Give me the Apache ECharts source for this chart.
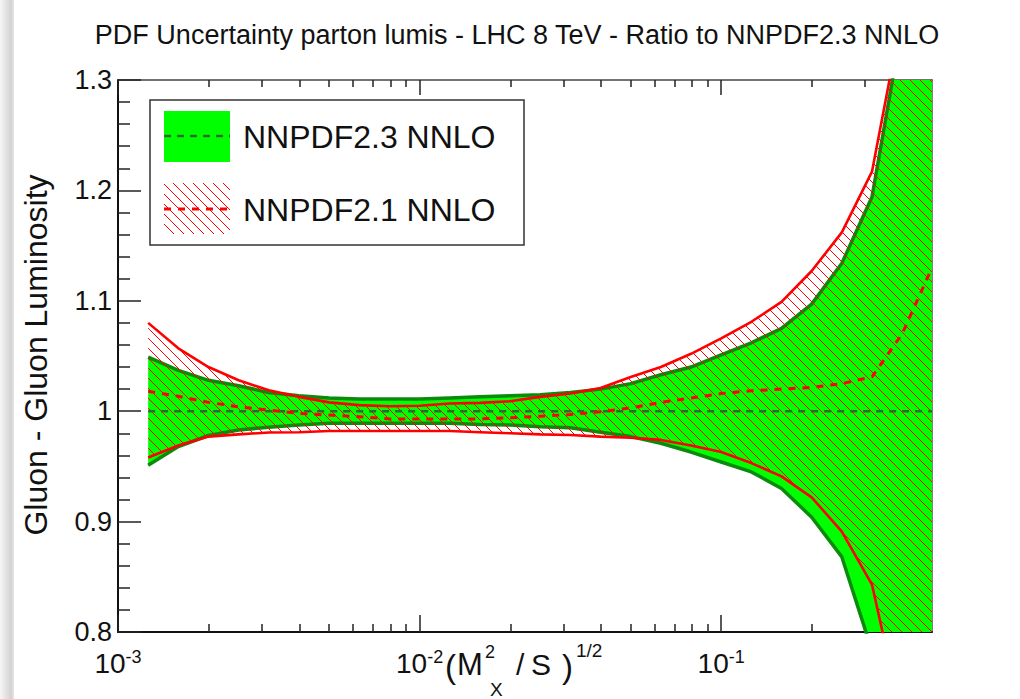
<!DOCTYPE html>
<html><head><meta charset="utf-8">
<script src="https://cdn.jsdelivr.net/npm/echarts@6/dist/echarts.min.js"></script>
<style>html,body{margin:0;padding:0;background:#fff}#c{width:1020px;height:699px}</style>
</head><body><div id="c"></div>
<script>
// ---- data (x = (M_X^2/S)^{1/2}) ----
const xVals = [0.001259, 0.001585, 0.001995, 0.002512, 0.003162, 0.003981, 0.005012, 0.006310, 0.007943,
  0.01, 0.01259, 0.01585, 0.01995, 0.02512, 0.03162, 0.03981, 0.05012, 0.06310, 0.07943,
  0.1, 0.1259, 0.1585, 0.1995, 0.2512, 0.3162, 0.3981, 0.5];
// NNPDF2.3 NNLO band (ratio to itself)
const g23Up = [1.049, 1.037, 1.028, 1.023, 1.017, 1.014, 1.012, 1.011, 1.011,
  1.011, 1.012, 1.013, 1.014, 1.015, 1.017, 1.020, 1.025, 1.033, 1.040,
  1.051, 1.062, 1.075, 1.097, 1.134, 1.194, 1.35, 1.5];
const g23Lo = [0.951, 0.968, 0.978, 0.983, 0.9855, 0.9875, 0.989, 0.989, 0.989,
  0.989, 0.989, 0.988, 0.9875, 0.986, 0.985, 0.981, 0.977, 0.971, 0.963,
  0.954, 0.945, 0.930, 0.904, 0.868, 0.783, 0.62, 0.45];
const g23Ct = [1, 1, 1, 1, 1, 1, 1, 1, 1, 1, 1, 1, 1, 1, 1, 1, 1, 1, 1, 1, 1, 1, 1, 1, 1, 1, 1];
// NNPDF2.1 NNLO band
const r21Up = [1.080, 1.057, 1.040, 1.028, 1.019, 1.013, 1.008, 1.0055, 1.0045,
  1.005, 1.007, 1.0075, 1.009, 1.013, 1.016, 1.021, 1.031, 1.040, 1.052,
  1.066, 1.081, 1.099, 1.127, 1.162, 1.217, 1.36, 1.55];
const r21Lo = [0.958, 0.969, 0.977, 0.979, 0.9807, 0.981, 0.982, 0.982, 0.982,
  0.982, 0.982, 0.981, 0.980, 0.979, 0.9785, 0.977, 0.976, 0.974, 0.969,
  0.963, 0.953, 0.941, 0.922, 0.891, 0.843, 0.72, 0.55];
const r21Ct = [1.018, 1.0135, 1.008, 1.004, 1.001, 0.998, 0.9965, 0.995, 0.993,
  0.993, 0.993, 0.993, 0.994, 0.9955, 0.997, 0.9995, 1.003, 1.008, 1.012,
  1.016, 1.0185, 1.020, 1.0215, 1.025, 1.031, 1.070, 1.130];

const xMajorTicks = [0.001, 0.01, 0.1];
const xMajorExp = ['-3', '-2', '-1'];
const xMinorTicks = [0.002, 0.003, 0.004, 0.005, 0.006, 0.007, 0.008, 0.009,
  0.02, 0.03, 0.04, 0.05, 0.06, 0.07, 0.08, 0.09, 0.2, 0.3, 0.4];
const yTicks = [0.8, 0.9, 1.0, 1.1, 1.2, 1.3];
const yTickLabels = ['0.8', '0.9', '1', '1.1', '1.2', '1.3'];
const seriesNames = ['NNPDF2.3 NNLO', 'NNPDF2.1 NNLO'];
const titleText = 'PDF Uncertainty parton lumis - LHC 8 TeV - Ratio to NNPDF2.3 NNLO';
const yName = 'Gluon - Gluon Luminosity';

// ---- styles ----
const FONT = '"Liberation Sans", Arial, Helvetica, sans-serif';
const LIME = '#00ff00', DKGREEN = '#0b8a0b', GDASH = '#2f6b2f', RED = '#ff0000';
function hatchCanvas() {
  const c = document.createElement('canvas'); c.width = 10; c.height = 10;
  const g = c.getContext('2d'); g.strokeStyle = RED; g.lineWidth = 1;
  for (const d of [-10, 0, 10]) { g.beginPath(); g.moveTo(d - 1, -1); g.lineTo(d + 11, 11); g.stroke(); }
  return c;
}
const hatch = { image: hatchCanvas(), repeat: 'repeat', imageWidth: 10, imageHeight: 10 };

const pair = ys => xVals.map((x, i) => [x, ys[i]]);
const lineS = (data, color, width, type, z) => ({
  type: 'line', data, symbol: 'none', silent: true, z,
  lineStyle: { color, width, type: type || 'solid' }
});
// band between upper and lower curves, drawn as one polygon through the axes' scales
const bandS = (name, up, lo, fill, z) => ({
  type: 'custom', name, z, silent: true,
  data: xVals.map((x, i) => [x, up[i], lo[i]]),
  encode: { x: 0, y: [1, 2] },
  renderItem: (params, api) => {
    if (params.dataIndex !== 0) return null;
    const pts = [];
    for (let i = 0; i < xVals.length; i++) pts.push(api.coord([xVals[i], up[i]]));
    for (let i = xVals.length - 1; i >= 0; i--) pts.push(api.coord([xVals[i], lo[i]]));
    const cs = params.coordSys;
    return { type: 'polygon', shape: { points: pts }, style: { fill, stroke: null },
      clipPath: { type: 'rect', shape: { x: cs.x, y: cs.y, width: cs.width, height: cs.height } } };
  }
});

const chart = echarts.init(document.getElementById('c'), null, { renderer: 'svg' });
const gridBox = { left: 118, right: 88, top: 80, bottom: 67 };
const tickStyle = { color: '#222', width: 1.5 };

chart.setOption({
  animation: false,
  backgroundColor: '#fff',
  grid: [Object.assign({ containLabel: false }, gridBox), Object.assign({ containLabel: false }, gridBox)],
  xAxis: [
    { gridIndex: 0, type: 'log', logBase: 10, min: 0.001, max: 0.5, position: 'bottom',
      axisLine: { show: true, lineStyle: { color: '#111', width: 2 } },
      axisTick: { show: true, inside: true, length: 17, lineStyle: tickStyle, customValues: xMajorTicks },
      splitLine: { show: false },
      axisLabel: { show: true, margin: 16, customValues: xMajorTicks, color: '#111', fontFamily: FONT,
        formatter: v => {
          let k = 0, best = Infinity;
          xMajorTicks.forEach((t, i) => { const d = Math.abs(Math.log(v / t)); if (d < best) { best = d; k = i; } });
          return '{b|10}{s|' + xMajorExp[k] + '}';
        },
        rich: { b: { fontSize: 28, fontFamily: FONT, color: '#111', lineHeight: 30 },
                s: { fontSize: 18, fontFamily: FONT, color: '#111', verticalAlign: 'top', lineHeight: 30, padding: [0, 0, 14, 0] } } } },
    { gridIndex: 0, type: 'log', logBase: 10, min: 0.001, max: 0.5, position: 'top',
      axisLine: { show: true, lineStyle: { color: '#444', width: 1.5 } },
      axisTick: { show: true, inside: true, length: 15, lineStyle: tickStyle, customValues: xMajorTicks },
      axisLabel: { show: false }, splitLine: { show: false } },
    { gridIndex: 1, type: 'log', logBase: 10, min: 0.001, max: 0.5, position: 'bottom',
      axisLine: { show: false },
      axisTick: { show: true, inside: true, length: 8, lineStyle: tickStyle, customValues: xMinorTicks },
      axisLabel: { show: false }, splitLine: { show: false } },
    { gridIndex: 1, type: 'log', logBase: 10, min: 0.001, max: 0.5, position: 'top',
      axisLine: { show: false },
      axisTick: { show: true, inside: true, length: 7, lineStyle: tickStyle, customValues: xMinorTicks },
      axisLabel: { show: false }, splitLine: { show: false } }
  ],
  yAxis: [
    { gridIndex: 0, type: 'value', min: 0.8, max: 1.3, interval: 0.1, position: 'left',
      axisLine: { show: true, lineStyle: { color: '#111', width: 2 } },
      axisTick: { show: true, inside: true, length: 23, lineStyle: tickStyle },
      minorTick: { show: true, splitNumber: 5, length: 12, lineStyle: tickStyle },
      splitLine: { show: false }, minorSplitLine: { show: false },
      axisLabel: { show: true, margin: 6, color: '#111', fontSize: 27, fontFamily: FONT,
        formatter: v => { let k = 0, best = Infinity; yTicks.forEach((t, i) => { const d = Math.abs(v - t); if (d < best) { best = d; k = i; } }); return yTickLabels[k]; } } },
    { gridIndex: 0, type: 'value', min: 0.8, max: 1.3, interval: 0.1, position: 'right',
      axisLine: { show: true, lineStyle: { color: '#555', width: 1.5 } },
      axisTick: { show: false }, axisLabel: { show: false }, splitLine: { show: false } },
    { gridIndex: 1, type: 'value', min: 0.8, max: 1.3, show: false }
  ],
  series: [
    bandS(seriesNames[0], g23Up, g23Lo, LIME, 2),
    lineS(pair(g23Up), DKGREEN, 3.5, 'solid', 3),
    lineS(pair(g23Lo), DKGREEN, 3.5, 'solid', 3),
    bandS(seriesNames[1], r21Up, r21Lo, hatch, 4),
    lineS(pair(r21Up), RED, 2.6, 'solid', 5),
    lineS(pair(r21Lo), RED, 2.6, 'solid', 5),
    lineS(pair(g23Ct), GDASH, 2.5, [7, 6], 6),
    lineS(pair(r21Ct), RED, 3, [7, 7], 7)
  ],
  graphic: [
    { type: 'rect', shape: { x: 0, y: 0, width: 14, height: 699 }, z: 100,
      style: { fill: new echarts.graphic.LinearGradient(0, 0, 1, 0, [{ offset: 0, color: '#f6f6f6' }, { offset: 0.8, color: '#d2d2d2' }, { offset: 1, color: '#e8e8e8' }]) } },
    { type: 'text', x: 517, y: 35, z: 100, style: { text: titleText, fill: '#111', font: '27px ' + FONT, align: 'center', verticalAlign: 'middle' } },
    { type: 'text', x: 36, y: 355, rotation: Math.PI / 2, z: 100, style: { text: yName, fill: '#111', font: '32px ' + FONT, align: 'center', verticalAlign: 'middle' } },
    // x-axis name ( M_X^2 / S )^{1/2}
    { type: 'text', x: 445, y: 666, z: 100, style: { text: '(', fill: '#111', font: '33px ' + FONT, verticalAlign: 'middle' } },
    { type: 'text', x: 457, y: 664, z: 100, style: { text: 'M', fill: '#111', font: '31px ' + FONT, verticalAlign: 'middle' } },
    { type: 'text', x: 485, y: 652, z: 100, style: { text: '2', fill: '#111', font: '18px ' + FONT, verticalAlign: 'middle' } },
    { type: 'text', x: 490, y: 689, z: 100, style: { text: 'X', fill: '#111', font: '19px ' + FONT, verticalAlign: 'middle' } },
    { type: 'text', x: 516, y: 664, z: 100, style: { text: '/', fill: '#111', font: '30px ' + FONT, verticalAlign: 'middle' } },
    { type: 'text', x: 531, y: 664, z: 100, style: { text: 'S', fill: '#111', font: '30px ' + FONT, verticalAlign: 'middle' } },
    { type: 'text', x: 562, y: 666, z: 100, style: { text: ')', fill: '#111', font: '33px ' + FONT, verticalAlign: 'middle' } },
    { type: 'text', x: 576, y: 650, z: 100, style: { text: '1/2', fill: '#111', font: '19px ' + FONT, verticalAlign: 'middle' } },
    // legend
    { type: 'rect', shape: { x: 150, y: 100, width: 374, height: 145 }, z: 100, style: { fill: '#fff', stroke: '#333', lineWidth: 1.5 } },
    { type: 'rect', shape: { x: 164, y: 111, width: 66, height: 51 }, z: 101, style: { fill: LIME } },
    { type: 'line', shape: { x1: 164, y1: 136, x2: 230, y2: 136 }, z: 102, style: { stroke: GDASH, lineWidth: 2.5, lineDash: [7, 6] } },
    { type: 'rect', shape: { x: 164, y: 183, width: 66, height: 51 }, z: 101, style: { fill: hatch } },
    { type: 'line', shape: { x1: 164, y1: 209, x2: 230, y2: 209 }, z: 102, style: { stroke: RED, lineWidth: 3, lineDash: [7, 7] } },
    { type: 'text', x: 243, y: 137, z: 101, style: { text: seriesNames[0], fill: '#111', font: '32px ' + FONT, verticalAlign: 'middle' } },
    { type: 'text', x: 243, y: 210, z: 101, style: { text: seriesNames[1], fill: '#111', font: '32px ' + FONT, verticalAlign: 'middle' } }
  ]
});
</script>
</body></html>
